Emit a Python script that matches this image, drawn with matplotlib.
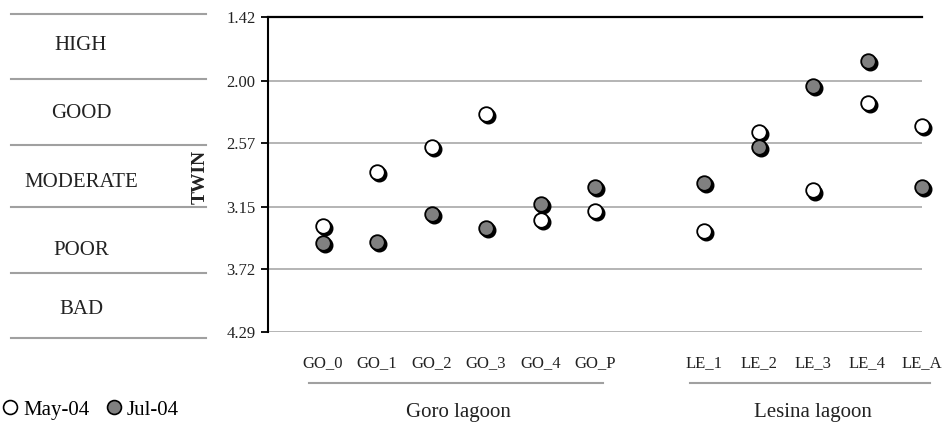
import matplotlib
matplotlib.use("Agg")
import matplotlib.pyplot as plt
from matplotlib.transforms import ScaledTranslation, blended_transform_factory
from matplotlib.lines import Line2D

plt.rcParams['font.family'] = ['Liberation Serif', 'DejaVu Serif']

# ---- data ----
sites = ["GO_0", "GO_1", "GO_2", "GO_3", "GO_4", "GO_P", "", "LE_1", "LE_2", "LE_3", "LE_4", "LE_A"]
may04 = [3.32, 2.83, 2.60, 2.30, 3.27, 3.19, None, 3.37, 2.465, 3.00, 2.20, 2.41]
jul04 = [3.48, 3.47, 3.215, 3.34, 3.12, 2.97, None, 2.935, 2.60, 2.046, 1.82, 2.97]
yticks = [1.42, 2.00, 2.57, 3.15, 3.72, 4.29]
classes = ["HIGH", "GOOD", "MODERATE", "POOR", "BAD"]
groups = ["Goro lagoon", "Lesina lagoon"]
group_span = [(0, 5), (7, 11)]

W, H = 943, 424
fig = plt.figure(figsize=(W / 100, H / 100), dpi=100)
ax = fig.add_axes([268 / W, 1 - 332 / H, (922 - 268) / W, (332 - 17) / H])

xs = list(range(len(sites)))
shadow = ax.transData + ScaledTranslation(2.2 / 100, -2.2 / 100, fig.dpi_scale_trans)
for vals, face in [(may04, "white"), (jul04, "#808080")]:
    px = [x for x, v in zip(xs, vals) if v is not None]
    py = [v for v in vals if v is not None]
    ax.plot(px, py, "o", ms=10.5, mfc="black", mec="black", ls="none",
            transform=shadow, clip_on=False, zorder=3)
    ax.plot(px, py, "o", ms=10.5, mfc=face, mec="black", mew=1.3, ls="none",
            clip_on=False, zorder=4)

ax.set_xlim(-1, 11)
ax.set_ylim(4.29, 1.42)
ax.set_yticks(yticks)
ax.set_yticklabels([f"{t:.2f}" for t in yticks], fontsize=12, color="#222222")
ax.yaxis.grid(True, color="#a0a0a0", lw=1.1)
ax.set_axisbelow(True)
ax.set_xticks(xs)
ax.set_xticklabels(sites, fontsize=12, color="#222222")
ax.tick_params(axis="x", length=0, pad=16.5)
ax.tick_params(axis="y", length=5, width=1.3, direction="out", pad=4)
for s in ["right", "bottom"]:
    ax.spines[s].set_visible(False)
ax.spines["left"].set_linewidth(1.5)
ax.spines["top"].set_linewidth(1.6)

# TWIN label
fig.text(200 / W, 1 - 177 / H, "TWIN", rotation=90, fontsize=14, fontweight="bold",
         ha="center", va="center", color="#222222")

# left class panel
line_y = [14, 79, 145, 207, 273, 338]
for yy in line_y:
    fig.add_artist(Line2D([11 / W, 206 / W], [1 - yy / H, 1 - yy / H],
                          color="#a0a0a0", lw=1.5))
label_y = [46, 114, 182, 251, 309]
for lab, yy in zip(classes, label_y):
    fig.text(81 / W, 1 - yy / H, lab, fontsize=15, ha="center", va="center",
             color="#222222")

# group underlines and labels
tb = blended_transform_factory(ax.transData, fig.transFigure)
for g, (a, b) in zip(groups, group_span):
    ax.add_artist(Line2D([a - 0.25, b + 0.15], [1 - 383 / H, 1 - 383 / H],
                         color="#a0a0a0", lw=1.5, transform=tb, clip_on=False))
    ax.text((a + b) / 2, 1 - 413 / H, g, transform=tb, fontsize=15,
            ha="center", va="center", color="#222222", clip_on=False)

# legend
handles = [Line2D([], [], marker="o", ls="none", ms=10, mfc="white", mec="black", mew=1.2),
           Line2D([], [], marker="o", ls="none", ms=10, mfc="#808080", mec="black", mew=1.2)]
fig.legend(handles, ["May-04", "Jul-04"], loc="center left", bbox_to_anchor=(0.0, 1 - 410 / H),
           ncol=2, frameon=False, fontsize=15, handlelength=0.6, handletextpad=0.3,
           columnspacing=0.9, borderaxespad=0, borderpad=0.2)

fig.savefig("out.png", dpi=100)
